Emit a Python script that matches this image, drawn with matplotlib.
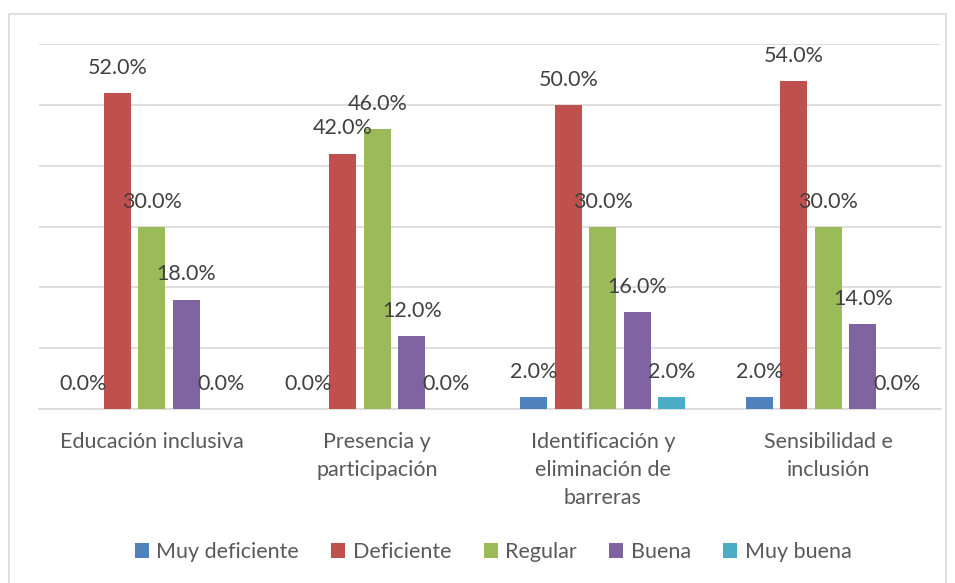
import numpy as np
import matplotlib.pyplot as plt
from matplotlib.patches import Rectangle

# datos
categorias = ["Educación inclusiva", "Presencia y\nparticipación",
              "Identificación y\neliminación de\nbarreras", "Sensibilidad e\ninclusión"]
series = ["Muy deficiente", "Deficiente", "Regular", "Buena", "Muy buena"]
muy_deficiente = [0.0, 0.0, 2.0, 2.0]
deficiente = [52.0, 42.0, 50.0, 54.0]
regular = [30.0, 46.0, 30.0, 30.0]
buena = [18.0, 12.0, 16.0, 14.0]
muy_buena = [0.0, 0.0, 2.0, 0.0]
valores = [muy_deficiente, deficiente, regular, buena, muy_buena]
colores = ["#4F81BD", "#C0504D", "#9BBB59", "#8064A2", "#4BACC6"]

plt.rcParams['font.family'] = ['Lato', 'DejaVu Sans']
texto = "#595959"

fig = plt.figure(figsize=(9.55, 5.83), dpi=100)
ax = fig.add_axes([39/955, 1 - 409/583, (941 - 39)/955, (409 - 44)/583])

x = np.arange(len(categorias))
paso = 0.153
ancho = 0.12
for i, (nombre, vals, c) in enumerate(zip(series, valores, colores)):
    pos = x + (i - 2) * paso
    ax.bar(pos, vals, width=ancho, color=c, label=nombre, zorder=3)
    for px, v in zip(pos, vals):
        ax.annotate(f"{v:.1f}%", (px, v), xytext=(0, 18), textcoords="offset points",
                    ha="center", va="center", fontsize=15.5, color="#404040", zorder=4)

ax.set_xlim(-0.5, len(categorias) - 0.5)
ax.set_ylim(0, 60)
ax.set_yticks(np.arange(0, 61, 10))
ax.yaxis.grid(True, color="#D9D9D9", linewidth=1.2, zorder=0)
ax.tick_params(axis="y", left=False, labelleft=False)
ax.set_xticks(x)
ax.set_xticklabels(categorias, fontsize=15.5, color=texto, linespacing=1.5)
ax.tick_params(axis="x", length=0, pad=16.5)
for s in ["top", "right", "left"]:
    ax.spines[s].set_visible(False)
ax.spines["bottom"].set_color("#D9D9D9")
ax.spines["bottom"].set_linewidth(1.2)

fig.legend(loc="center", bbox_to_anchor=(493/955, 1 - 552/583), ncol=5, frameon=False,
           fontsize=15.5, labelcolor=texto, handlelength=0.65, handleheight=0.65,
           handletextpad=0.35, columnspacing=1.5)

fig.add_artist(Rectangle((9/955, -0.01), (946 - 9)/955, 1.01 - 14/583,
                         transform=fig.transFigure, fill=False, edgecolor="#D9D9D9", linewidth=1.2))

fig.savefig("out.png", dpi=100)
